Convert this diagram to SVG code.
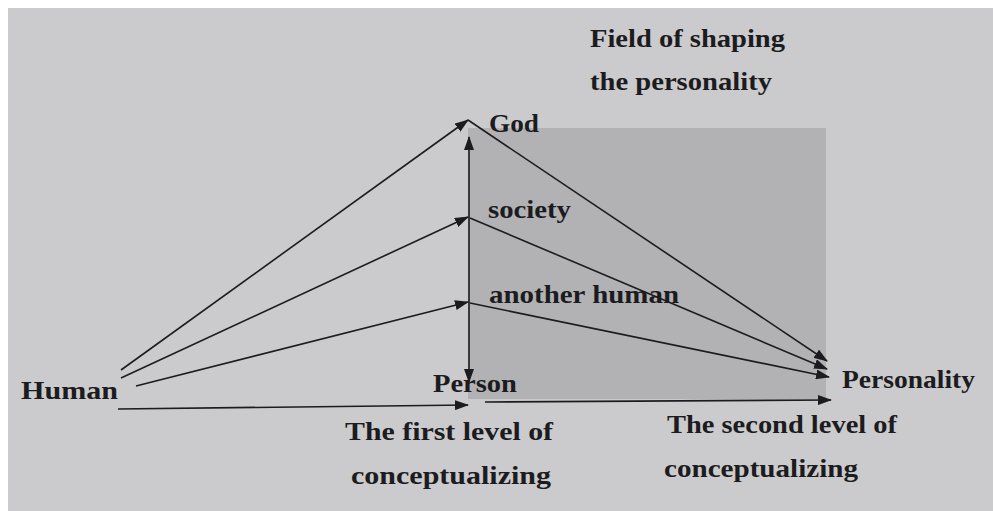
<svg xmlns="http://www.w3.org/2000/svg" width="993" height="511" viewBox="0 0 993 511">
<style>
.t{font-family:"Liberation Serif","Times New Roman",serif;font-weight:bold;font-size:25px;fill:#1c1c20}
.c{stroke:#1c1c20;stroke-width:1.6;fill:none}
</style>
<defs>
<marker id="a" markerWidth="14" markerHeight="10" refX="13" refY="5" orient="auto-start-reverse" markerUnits="userSpaceOnUse">
<path d="M0,0 L14,5 L0,10 z" fill="#1c1c20"/>
</marker>
</defs>
<rect width="993" height="511" fill="#ffffff"/>
<rect x="8" y="8" width="985" height="503" fill="#cbcbcd"/>
<rect id="field" x="468" y="128" width="358" height="271" fill="#b2b2b4"/>
<g id="connectors">
<line class="c" x1="469" y1="137" x2="469" y2="382" marker-start="url(#a)" marker-end="url(#a)"/>
<line class="c" x1="121" y1="370" x2="468" y2="120" marker-end="url(#a)"/>
<line class="c" x1="121" y1="378" x2="468" y2="217" marker-end="url(#a)"/>
<line class="c" x1="136" y1="386" x2="468" y2="302" marker-end="url(#a)"/>
<line class="c" x1="468" y1="120" x2="827" y2="361" marker-end="url(#a)"/>
<line class="c" x1="470" y1="218" x2="827" y2="369" marker-end="url(#a)"/>
<line class="c" x1="470" y1="303" x2="829" y2="377" marker-end="url(#a)"/>
<line class="c" x1="118" y1="409" x2="468" y2="405" marker-end="url(#a)"/>
<line class="c" x1="485" y1="402" x2="831" y2="400" marker-end="url(#a)"/>
</g>
<g id="human"><text class="t" x="21" y="399" textLength="97" lengthAdjust="spacingAndGlyphs">Human</text></g>
<g id="person"><text class="t" x="433" y="392" textLength="84" lengthAdjust="spacingAndGlyphs">Person</text></g>
<g id="personality"><text class="t" x="842" y="388" textLength="133" lengthAdjust="spacingAndGlyphs">Personality</text></g>
<g id="god"><text class="t" x="489" y="132" textLength="50" lengthAdjust="spacingAndGlyphs">God</text></g>
<g id="society"><text class="t" x="488" y="218" textLength="83" lengthAdjust="spacingAndGlyphs">society</text></g>
<g id="another-human"><text class="t" x="489" y="303" textLength="190" lengthAdjust="spacingAndGlyphs">another human</text></g>
<g id="field-label"><text class="t" x="590" y="47" textLength="195" lengthAdjust="spacingAndGlyphs">Field of shaping</text><text class="t" x="590" y="90" textLength="182" lengthAdjust="spacingAndGlyphs">the personality</text></g>
<g id="first-level"><text class="t" x="345" y="440" textLength="208" lengthAdjust="spacingAndGlyphs">The first level of</text><text class="t" x="351" y="484" textLength="200" lengthAdjust="spacingAndGlyphs">conceptualizing</text></g>
<g id="second-level"><text class="t" x="667" y="433" textLength="230" lengthAdjust="spacingAndGlyphs">The second level of</text><text class="t" x="664" y="477" textLength="194" lengthAdjust="spacingAndGlyphs">conceptualizing</text></g>
</svg>
